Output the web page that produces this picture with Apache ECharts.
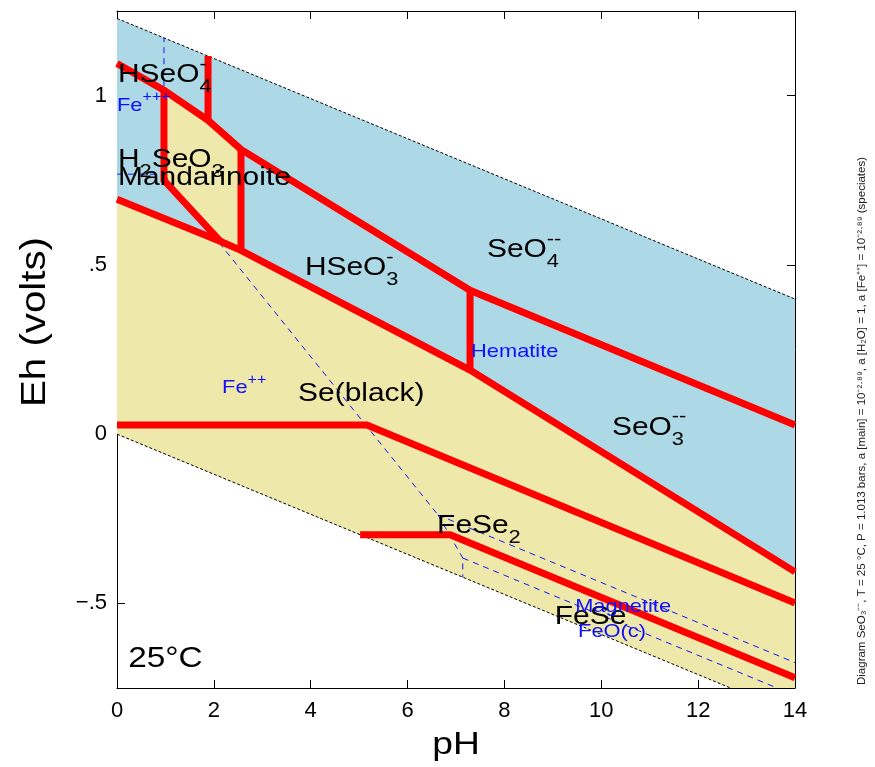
<!DOCTYPE html>
<html><head><meta charset="utf-8">
<script src="https://cdn.jsdelivr.net/npm/echarts@6/dist/echarts.min.js"></script>
<style>html,body{margin:0;padding:0;background:#fff}#c{width:875px;height:767px}</style>
</head><body><div id="c"></div>
<script>
// ---------- data ----------
const pHTicks = [0, 2, 4, 6, 8, 10, 12, 14];
const ehTickValues = [-0.5, 0, 0.5, 1];
const ehTickLabels = ['\u2212.5', '0', '.5', '1'];
const pHRange = [0, 14];
const ehRange = [-0.75, 1.25];

// water stability limits
const upperWater = [[0, 1.228], [14, 0.399]];
const lowerWater = [[0, 0], [12.67, -0.75]];

// Se field boundaries (red)
const seO4Upper = [[0, 1.095], [0.97, 1.016], [1.88, 0.927], [2.56, 0.841], [7.29, 0.425], [14, 0.027]];
const hseo4Sep = [[1.88, 0.927], [1.88, 1.117]];
const mandLeft = [[0.97, 1.016], [0.97, 0.75], [2.13, 0.570]];
const mandRight = [[2.56, 0.841], [2.56, 0.543]];
const seTop = [[0, 0.694], [2.13, 0.570], [2.56, 0.543], [7.29, 0.189], [14, -0.407]];
const hseo3Sep = [[7.29, 0.425], [7.29, 0.189]];
const seFeSe2 = [[0, 0.027], [5.16, 0.027], [14, -0.499]];
const feSe2FeSe = [[5.02, -0.297], [6.88, -0.297], [14, -0.720]];

// Fe overlay (blue dashed)
const fe3fe2 = [[0, 0.768], [0.97, 0.768]];
const fe3hem = [[0.97, 0.768], [0.97, 1.171]];
const fe2hem = [[0.97, 0.768], [6.63, -0.239]];
const fe2mag = [[6.63, -0.239], [7.14, -0.366], [7.14, -0.423]];
const hemMag = [[6.63, -0.239], [14, -0.675]];
const magFeO = [[7.14, -0.366], [13.63, -0.75]];

// field labels
const labelParts = [
  [{t: 'HSeO'}, {sub: '4', sup: '-'}],
  [{t: 'Fe'}, {sup: '+++'}],
  [{t: 'H'}, {sub: '2'}, {t: 'SeO'}, {sub: '3'}],
  [{t: 'Mandarinoite'}],
  [{t: 'HSeO'}, {sub: '3', sup: '-'}],
  [{t: 'SeO'}, {sub: '4', sup: '--'}],
  [{t: 'Hematite'}],
  [{t: 'Fe'}, {sup: '++'}],
  [{t: 'Se(black)'}],
  [{t: 'SeO'}, {sub: '3', sup: '--'}],
  [{t: 'FeSe'}, {sub: '2'}],
  [{t: 'FeSe'}],
  [{t: 'Magnetite'}],
  [{t: 'FeO(c)'}],
  [{t: '25\u00b0C'}]
];
const labelAt = [
  [0.02, 1.060], [0.0, 0.971], [0.02, 0.809], [0.02, 0.756], [3.88, 0.490],
  [7.64, 0.543], [7.31, 0.242], [2.17, 0.136], [3.74, 0.118], [10.22, 0.018],
  [6.61, -0.272], [9.04, -0.540], [9.46, -0.511], [9.52, -0.585], [0.23, -0.664]
];
const labelKind = ['k','b','k','k','k','k','b','b','k','k','k','k','b','b','t'];

const sideNote = 'Diagram SeO\u2083\u207b\u207b, T = 25 \u00b0C, P = 1.013 bars, a [main] = 10\u207b\u00b2\u00b7\u2078\u2079, a [H\u2082O] = 1, a [Fe\u207a\u207a] = 10\u207b\u00b2\u00b7\u2078\u2079 (speciates)';

// ---------- styles ----------
const FONT = '"Liberation Sans", Arial, Helvetica, sans-serif';
const BLUE_FILL = '#add8e6';
const YELLOW_FILL = '#eee8aa';
const RED = '#ff0000';
const STRETCH = 1.15;
const kindStyle = {
  k: {size: 26, color: '#000'},
  b: {size: 19, color: '#1010ff'},
  t: {size: 29, color: '#000'}
};

const mctx = document.createElement('canvas').getContext('2d');
function tw(t, size) { mctx.font = size + 'px ' + FONT; return mctx.measureText(t).width; }

// polygons built from boundary arrays
const bluePoly = upperWater.concat(seTop.slice().reverse());
const yellowPoly = seTop.concat([[pHRange[1], ehRange[0]]], lowerWater.slice().reverse());
const mandPoly = [seO4Upper[1], seO4Upper[2], seO4Upper[3], mandRight[1], mandLeft[2], mandLeft[1]];

function polySeries(poly, color) {
  return {
    type: 'custom', data: poly, encode: {x: 0, y: 1}, silent: true, z: 1,
    renderItem: function (params, api) {
      if (params.dataIndex !== 0) return null;
      const pts = poly.map(p => api.coord(p));
      return {type: 'polygon', shape: {points: pts}, style: {fill: color, stroke: null}};
    }
  };
}
function lineSeries(data, color, width, dash, z) {
  return {
    type: 'line', data: data, showSymbol: false, symbol: 'none', silent: true, z: z,
    lineStyle: {color: color, width: width, type: dash || 'solid', cap: 'butt', join: 'miter'},
    clip: true
  };
}

const redSets = [seO4Upper, hseo4Sep, mandLeft, mandRight, seTop, hseo3Sep, seFeSe2, feSe2FeSe];
const blueSets = [fe3fe2, fe3hem, fe2hem, fe2mag, hemMag, magFeO];

const series = [
  polySeries(bluePoly, BLUE_FILL),
  polySeries(yellowPoly, YELLOW_FILL),
  polySeries(mandPoly, YELLOW_FILL),
  lineSeries(upperWater, '#000', 1, [3, 2], 3),
  lineSeries(lowerWater, '#000', 1, [3, 2], 3),
];
blueSets.forEach(s => series.push(lineSeries(s, '#1515ff', 1, [6, 5], 4)));
redSets.forEach(s => series.push(lineSeries(s, RED, 7, 'solid', 5)));
series.push({
  type: 'custom', data: labelAt, encode: {x: 0, y: 1}, silent: true, z: 10, clip: false,
  renderItem: function (params, api) {
    const i = params.dataIndex;
    const st = kindStyle[labelKind[i]];
    const size = st.size, small = Math.round(size * 0.72);
    const p = api.coord(labelAt[i]);
    let x = 0;
    const children = [];
    labelParts[i].forEach(part => {
      if (part.t !== undefined) {
        children.push({type: 'text', style: {text: part.t, x: x, y: 0, fontSize: size, fontFamily: FONT, fill: st.color, align: 'left', verticalAlign: 'middle'}});
        x += tw(part.t, size);
      } else {
        let w = 0;
        if (part.sub) {
          children.push({type: 'text', style: {text: part.sub, x: x, y: size * 0.45, fontSize: small, fontFamily: FONT, fill: st.color, align: 'left', verticalAlign: 'middle'}});
          w = Math.max(w, tw(part.sub, small));
        }
        if (part.sup) {
          children.push({type: 'text', style: {text: part.sup, x: x, y: -size * 0.42, fontSize: small, fontFamily: FONT, fill: st.color, align: 'left', verticalAlign: 'middle'}});
          w = Math.max(w, tw(part.sup, small));
        }
        x += w;
      }
    });
    return {type: 'group', x: p[0], y: p[1], scaleX: STRETCH, children: children};
  }
});

const axisCommon = {
  type: 'value', splitLine: {show: false},
  axisLine: {show: true, onZero: false, lineStyle: {color: '#000', width: 1}},
  axisTick: {show: true, inside: true, length: 8, lineStyle: {color: '#000'}}
};

const option = {
  animation: false,
  backgroundColor: '#fff',
  grid: {left: 117, right: 80, top: 11, bottom: 79, containLabel: false},
  xAxis: [
    Object.assign({}, axisCommon, {min: pHRange[0], max: pHRange[1], interval: 2, position: 'bottom',
      axisLabel: {customValues: pHTicks, fontSize: 22, fontFamily: FONT, color: '#000', margin: 12}}),
    Object.assign({}, axisCommon, {min: pHRange[0], max: pHRange[1], interval: 2, position: 'top', axisLabel: {show: false}})
  ],
  yAxis: [
    Object.assign({}, axisCommon, {min: ehRange[0], max: ehRange[1], position: 'left',
      axisTick: {show: true, inside: true, length: 8, lineStyle: {color: '#000'}, customValues: ehTickValues},
      axisLabel: {customValues: ehTickValues, fontSize: 22, fontFamily: FONT, color: '#000', margin: 10,
        formatter: v => { const k = ehTickValues.findIndex(t => Math.abs(t - v) < 1e-9); return k >= 0 ? ehTickLabels[k] : ''; }}}),
    Object.assign({}, axisCommon, {min: ehRange[0], max: ehRange[1], position: 'right',
      axisTick: {show: true, inside: true, length: 8, lineStyle: {color: '#000'}, customValues: ehTickValues},
      axisLabel: {show: false}})
  ],
  graphic: [
    {type: 'text', x: 35, y: 322, rotation: Math.PI / 2, scaleX: 1.15, style: {text: 'Eh (volts)', fontSize: 35, fontFamily: FONT, fill: '#000', align: 'center', verticalAlign: 'middle'}},
    {type: 'text', x: 456, y: 745, scaleX: 1.2, style: {text: 'pH', fontSize: 31, fontFamily: FONT, fill: '#000', align: 'center', verticalAlign: 'middle'}},
    {type: 'text', x: 862, y: 421, rotation: Math.PI / 2, style: {text: sideNote, fontSize: 11.5, fontFamily: FONT, fill: '#222', align: 'center', verticalAlign: 'middle'}}
  ],
  series: series
};
const chart = echarts.init(document.getElementById('c'), null, {renderer: 'canvas'});
chart.setOption(option);
</script>
</body></html>
